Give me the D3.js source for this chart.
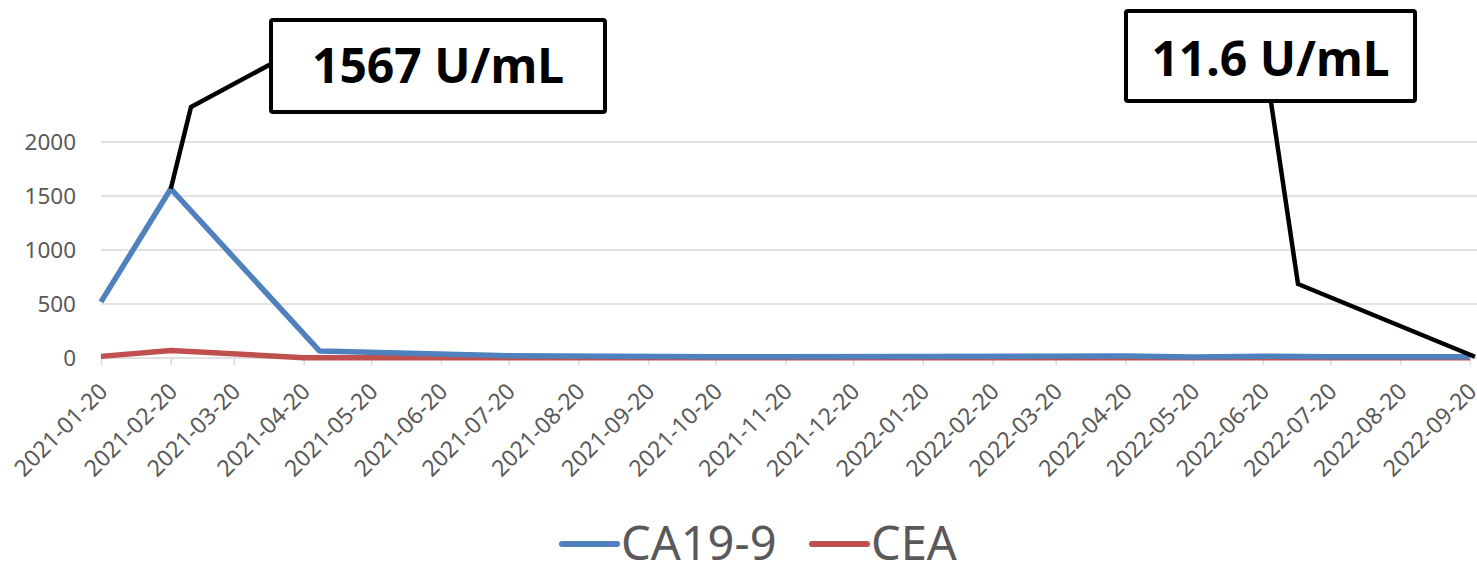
<!DOCTYPE html>
<html>
<head>
<meta charset="utf-8">
<script src="https://cdn.jsdelivr.net/npm/d3@7"></script>
<style>
  html, body { margin: 0; padding: 0; background: #fff; }
  svg { display: block; }
</style>
</head>
<body>
<svg id="chart" width="1477" height="564"></svg>
<script>
// ---- Data ----
const caDates = ["2021-01-20","2021-02-20","2021-04-27","2021-07-20","2021-10-20","2022-01-20","2022-04-20","2022-05-20","2022-06-20","2022-07-20","2022-09-20"];
const caValues = [520, 1567, 65, 20, 12, 14, 18, 10, 16, 12, 11.6];
const ceaDates = ["2021-01-20","2021-02-20","2021-04-20","2021-07-20","2022-01-20","2022-09-20"];
const ceaValues = [15, 70, 3, 3, 3, 3];
const xTickLabels = ["2021-01-20","2021-02-20","2021-03-20","2021-04-20","2021-05-20","2021-06-20","2021-07-20","2021-08-20","2021-09-20","2021-10-20","2021-11-20","2021-12-20","2022-01-20","2022-02-20","2022-03-20","2022-04-20","2022-05-20","2022-06-20","2022-07-20","2022-08-20","2022-09-20"];
const yTicks = [0, 500, 1000, 1500, 2000];
const seriesNames = ["CA19-9", "CEA"];
const annotations = ["1567 U/mL", "11.6 U/mL"];

const parse = d3.timeParse("%Y-%m-%d");
const svg = d3.select("#chart");
const font = "'Noto Sans', 'Open Sans', sans-serif";

const x = d3.scaleTime()
  .domain([parse(xTickLabels[0]), parse(xTickLabels[xTickLabels.length - 1])])
  .range([101, 1470]);
const y = d3.scaleLinear().domain([0, 2000]).range([358, 142]);

// gridlines
svg.append("g").selectAll("line").data(yTicks).join("line")
  .attr("x1", 101).attr("x2", 1477)
  .attr("y1", d => y(d)).attr("y2", d => y(d))
  .attr("stroke", "#d9d9d9").attr("stroke-width", 1.5);

// y axis labels
svg.append("g").selectAll("text").data(yTicks).join("text")
  .attr("x", 76).attr("y", d => y(d)).attr("dy", "0.36em")
  .attr("text-anchor", "end")
  .attr("font-family", font).attr("font-size", 22.5).attr("fill", "#595959")
  .text(d => d);

// x axis ticks
const xAxis = d3.axisBottom(x)
  .tickValues(xTickLabels.map(parse))
  .tickSize(7).tickFormat("");
const gx = svg.append("g").attr("transform", `translate(0,${y(0)})`).call(xAxis);
gx.select(".domain").remove();
gx.selectAll(".tick line").attr("stroke", "#d9d9d9").attr("stroke-width", 1.5);

// x labels
svg.append("g").selectAll("text").data(xTickLabels).join("text")
  .attr("transform", d => `translate(${x(parse(d)) + 8},${393}) rotate(-45)`)
  .attr("text-anchor", "end")
  .attr("font-family", font).attr("font-size", 23).attr("fill", "#595959")
  .text(d => d);

// lines
const line = d3.line().x(d => x(d[0])).y(d => y(d[1]));
const caData = caDates.map((d, i) => [parse(d), caValues[i]]);
const ceaData = ceaDates.map((d, i) => [parse(d), ceaValues[i]]);

svg.append("path").datum(ceaData).attr("d", line)
  .attr("fill", "none").attr("stroke", "#c0504d").attr("stroke-width", 5.5)
  .attr("stroke-linejoin", "round");
svg.append("path").datum(caData).attr("d", line)
  .attr("fill", "none").attr("stroke", "#4f81bd").attr("stroke-width", 5.5)
  .attr("stroke-linejoin", "round");

// annotations
const peak = caData[1];
const last = caData[caData.length - 1];

svg.append("polyline")
  .attr("points", `${x(peak[0])},${y(peak[1])} 191,107 271,64`)
  .attr("fill", "none").attr("stroke", "#000").attr("stroke-width", 4.5);
svg.append("polyline")
  .attr("points", `${x(last[0]) + 5},${y(last[1])} 1298,284 1271,102`)
  .attr("fill", "none").attr("stroke", "#000").attr("stroke-width", 4.5);

const boxes = [
  {x0: 271, y0: 20, x1: 605, y1: 112, ty: 83, t: annotations[0]},
  {x0: 1126, y0: 11, x1: 1415, y1: 101, ty: 76, t: annotations[1]}
];
boxes.forEach(b => {
  svg.append("rect")
    .attr("x", b.x0).attr("y", b.y0)
    .attr("width", b.x1 - b.x0).attr("height", b.y1 - b.y0)
    .attr("rx", 2)
    .attr("fill", "#fff").attr("stroke", "#000").attr("stroke-width", 4);
  svg.append("text")
    .attr("x", (b.x0 + b.x1) / 2).attr("y", b.ty)
    .attr("text-anchor", "middle")
    .attr("font-family", font).attr("font-weight", "bold")
    .attr("font-size", 48).attr("fill", "#000")
    .text(b.t);
});

// legend
const legend = [
  {lx: 562, tx: 621, c: "#4f81bd", name: seriesNames[0]},
  {lx: 812, tx: 871, c: "#c0504d", name: seriesNames[1]}
];
legend.forEach(l => {
  svg.append("line")
    .attr("x1", l.lx).attr("x2", l.lx + 55)
    .attr("y1", 544).attr("y2", 544)
    .attr("stroke", l.c).attr("stroke-width", 6).attr("stroke-linecap", "round");
  svg.append("text")
    .attr("x", l.tx).attr("y", 560)
    .attr("font-family", font).attr("font-size", 47).attr("fill", "#595959")
    .text(l.name);
});
</script>
</body>
</html>
